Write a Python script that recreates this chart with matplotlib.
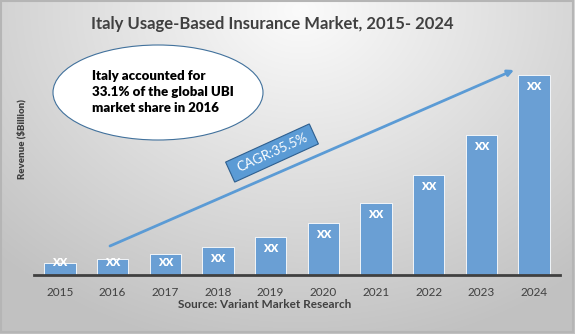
import numpy as np
import matplotlib
matplotlib.use("Agg")
import matplotlib.pyplot as plt
from matplotlib.patches import Ellipse, Rectangle, FancyArrowPatch
import matplotlib.transforms as mtransforms

plt.rcParams['font.family'] = ['Lato', 'DejaVu Sans']

years = ["2015", "2016", "2017", "2018", "2019", "2020", "2021", "2022", "2023", "2024"]
revenue = [0.62, 0.82, 1.05, 1.42, 1.92, 2.60, 3.62, 5.00, 7.00, 10.00]
bar_labels = ["XX"] * len(years)

title = "Italy Usage-Based Insurance Market, 2015- 2024"
y_title = "Revenue ($Billion)"
source = "Source: Variant Market Research"
note = "Italy accounted for\n33.1% of the global UBI\nmarket share in 2016"
cagr = "CAGR:35.5%"

W, H = 575, 334
fig = plt.figure(figsize=(W / 100, H / 100), dpi=100)

# soft radial background, lighter at the top centre
bg = fig.add_axes([0, 0, 1, 1], zorder=-10)
yy, xx = np.mgrid[0:H, 0:W]
d = np.sqrt(((xx - 300) / 400.0) ** 2 + ((yy - 10) / 320.0) ** 2)
shade = np.clip(0.985 - 0.21 * d, 0.76, 0.985)
bg.imshow(np.dstack([shade] * 3), aspect='auto', extent=[0, W, H, 0])
bg.add_patch(Rectangle((1, 1), W - 3.5, H - 3.5, fill=False, ec='#b5b5b5', lw=1.5))
bg.set_xlim(0, W)
bg.set_ylim(H, 0)
bg.axis('off')

# bar chart area
left, right, bottom_px, top_px = 34, 560, 275, 60
ax = fig.add_axes([left / W, (H - bottom_px) / H, (right - left) / W, (bottom_px - top_px) / H])
ax.patch.set_alpha(0)
x = np.arange(len(years))
bars = ax.bar(x, revenue, width=0.59, color='#6a9fd4', edgecolor='white', linewidth=0.6, zorder=2)
ax.set_xlim(-0.494, len(years) - 1 + 0.494)
ax.set_ylim(0, 10.75)
for xi, v, lab in zip(x, revenue, bar_labels):
    ax.text(xi, max(v - 0.6, 0.6), lab, ha='center', va='center', color='white',
            fontsize=8, fontweight='heavy', zorder=3)
for s in ['top', 'right', 'left']:
    ax.spines[s].set_visible(False)
ax.spines['bottom'].set_color('#404040')
ax.spines['bottom'].set_linewidth(2)
ax.set_yticks([])
ax.set_xticks(x)
ax.set_xticklabels(years, fontsize=8.5, color='#404040')
ax.tick_params(axis='x', length=0, pad=9)

# overlay in pixel coordinates (origin top-left)
ov = fig.add_axes([0, 0, 1, 1], zorder=5)
ov.set_xlim(0, W)
ov.set_ylim(H, 0)
ov.axis('off')
ov.patch.set_alpha(0)

ov.text(272, 24, title, ha='center', va='center', fontsize=12, fontweight='bold', color='#404040')
ov.text(265, 305, source, ha='center', va='center', fontsize=8.5, fontweight='bold', color='#404040')
ov.text(21.5, 139, y_title, ha='center', va='center', rotation=90, fontsize=7, fontweight='heavy',
        color='#404040')

ov.add_patch(Ellipse((158, 92.5), 210, 95, fc='white', ec='#41719c', lw=0.8))
ov.text(92, 92, note, ha='left', va='center', fontsize=9.5, fontweight='heavy', color='black',
        linespacing=1.45)

ov.add_patch(FancyArrowPatch((110, 246), (514, 70), arrowstyle='-|>', mutation_scale=9,
                             color='#5b9bd5', lw=2.0, shrinkA=0, shrinkB=0))

# rotated CAGR badge
ang = 24.5
bw, bh = 92, 22
cx, cy = 272, 153
tr = mtransforms.Affine2D().rotate_deg_around(cx, cy, -ang) + ov.transData
ov.add_patch(Rectangle((cx - bw / 2, cy - bh / 2), bw, bh, fc='#5b9bd5', ec='#2e5f8f', lw=0.8,
                       transform=tr))
ov.text(cx, cy, cagr, ha='center', va='center', rotation=ang, rotation_mode='anchor',
        fontsize=9.5, color='white')

fig.savefig('out.png', dpi=100)
